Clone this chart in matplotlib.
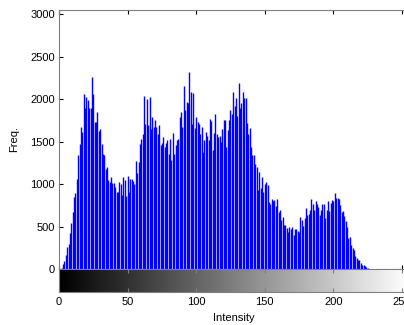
import numpy as np
import matplotlib
matplotlib.use("Agg")
import matplotlib.pyplot as plt

plt.rcParams['font.family'] = ['Liberation Sans', 'DejaVu Sans']

# histogram counts per intensity level (0..225)
counts = [
    0, 0,
    10, 60, 100, 165, 260, 300, 420, 540, 670, 850, 900, 1065, 1340, 1475, 1670, 1610,
    2065, 1900, 2020, 1985, 1890, 1900, 2255, 2060, 1730, 1730, 1845, 1630, 1650, 1475,
    1360, 1340, 1180, 1200, 1045,
    1030,
    1085, 1010, 1010, 960, 910, 910, 1030, 1000, 870, 1080, 1045, 855, 1100, 910, 1065,
    1065, 1040, 1000, 1270, 1125, 1260, 1475, 1535, 1595, 2035, 1710, 2000, 1690, 2020,
    1650, 1790, 1670, 1750,
    1670, 1595, 1700, 1460, 1484, 1550, 1440, 1480, 1515, 1350, 1535, 1280, 1600, 1350,
    1460, 1515, 1535, 1790, 1850, 1670, 2150, 1870, 1965, 1950, 2320, 2085, 1710, 2075,
    1655, 1790, 1730, 1710, 1595, 1670, 1380,
    1515, 1610, 1570, 1524, 1770, 1739, 1405, 1600, 1830, 1595, 1555, 1570, 1495, 1650,
    1750, 1750, 1440, 1640, 1750, 1870, 1830, 2085, 1915, 2010, 1798, 2190, 1890, 1955,
    2085, 2017, 2010, 1715, 1585, 1655, 1440,
    1340, 1340, 1234, 1200, 930, 1145, 950, 1080, 910, 1000, 1020, 990, 790, 770, 830,
    800, 815, 740, 820, 670, 690, 575, 610, 515, 515, 485, 435, 490, 470, 490, 405, 475,
    475, 450, 435,
    615, 575, 505, 595, 713, 635, 645, 700, 830, 765, 700, 800, 760, 733, 635, 693, 770,
    760, 595, 700, 800, 680, 780, 810, 800, 900, 835, 835, 830, 750, 670, 680, 620, 570,
    490, 360,
    372, 280, 243, 223, 152, 125, 106, 106, 67, 47, 47, 35, 27, 12,
]
levels = np.arange(len(counts))

xticks = [0, 50, 100, 150, 200, 250]
yticks = [0, 500, 1000, 1500, 2000, 2500, 3000]

spine_col = "#808080"

fig = plt.figure(figsize=(4.04, 3.25), dpi=100)
ax = fig.add_axes([0.146, 0.1723, 0.866, 0.797])
cb = fig.add_axes([0.146, 0.103, 0.866, 0.0695])

# stem-style histogram
ax.vlines(levels, 0, counts, color="blue", linewidth=1.0)
ax.set_xlim(0, 255)
ax.set_ylim(0, 3050)
ax.set_xticks(xticks)
ax.set_yticks(yticks)
ax.set_xticklabels([])
ax.tick_params(direction="in", top=True, right=True, labelsize=8, length=3,
               color="black", pad=3)
ax.set_ylabel("Freq.", fontsize=8, labelpad=8)
for s in ax.spines.values():
    s.set_color(spine_col)

# grayscale bar below
grad = np.linspace(0, 1, 256).reshape(1, -1)
cb.imshow(grad, cmap="gray", aspect="auto", extent=[0, 255, 0, 1])
cb.set_xlim(0, 255)
cb.set_yticks([])
cb.set_xticks(xticks)
cb.tick_params(direction="in", top=True, labelsize=8, length=3, color=spine_col, pad=4)
cb.set_xlabel("Intensity", fontsize=8, labelpad=4)
for s in cb.spines.values():
    s.set_color(spine_col)

fig.savefig("out.png", dpi=100)
